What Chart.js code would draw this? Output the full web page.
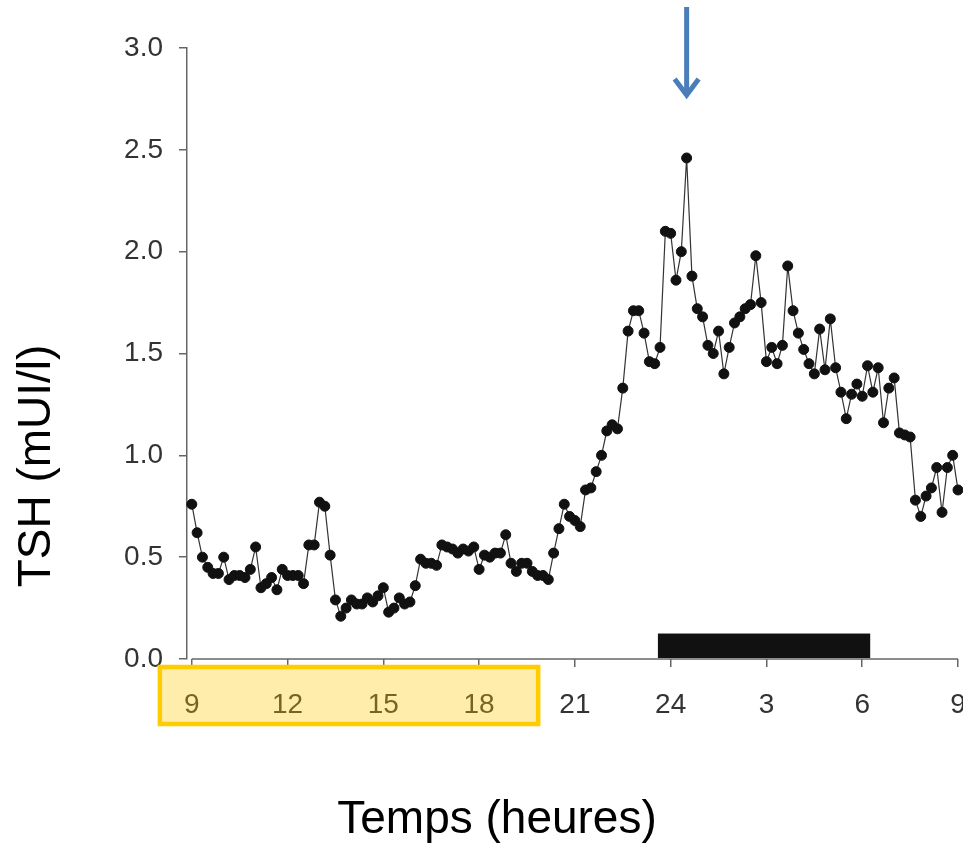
<!DOCTYPE html>
<html>
<head>
<meta charset="utf-8">
<script src="https://cdn.jsdelivr.net/npm/chart.js@4.4.1/dist/chart.umd.min.js"></script>
<style>
  html, body { margin: 0; padding: 0; background: #fff; }
  #wrap { width: 963px; height: 846px; }
</style>
</head>
<body>
<div id="wrap"><canvas id="tshChart" width="963" height="846"></canvas></div>
<script>
// TSH (mUI/l), one sample every 10 minutes starting at 9:00
const tsh = [
  0.76, 0.62, 0.50, 0.45, 0.42, 0.42, 0.50, 0.39, 0.41, 0.41, 0.40, 0.44,
  0.55, 0.35, 0.37, 0.40, 0.34, 0.44, 0.41, 0.41, 0.41, 0.37, 0.56, 0.56,
  0.77, 0.75, 0.51, 0.29, 0.21, 0.25, 0.29, 0.27, 0.27, 0.30, 0.28, 0.31,
  0.35, 0.23, 0.25, 0.30, 0.27, 0.28, 0.36, 0.49, 0.47, 0.47, 0.46, 0.56,
  0.55, 0.54, 0.52, 0.54, 0.53, 0.55, 0.44, 0.51, 0.50, 0.52, 0.52, 0.61,
  0.47, 0.43, 0.47, 0.47, 0.43, 0.41, 0.41, 0.39, 0.52, 0.64, 0.76, 0.70,
  0.68, 0.65, 0.83, 0.84, 0.92, 1.00, 1.12, 1.15, 1.13, 1.33, 1.61, 1.71,
  1.71, 1.60, 1.46, 1.45, 1.53, 2.10, 2.09, 1.86, 2.00, 2.46, 1.88, 1.72,
  1.68, 1.54, 1.50, 1.61, 1.40, 1.53, 1.65, 1.68, 1.72, 1.74, 1.98, 1.75,
  1.46, 1.53, 1.45, 1.54, 1.93, 1.71, 1.60, 1.52, 1.45, 1.40, 1.62, 1.42,
  1.67, 1.43, 1.31, 1.18, 1.30, 1.35, 1.29, 1.44, 1.31, 1.43, 1.16, 1.33,
  1.38, 1.11, 1.10, 1.09, 0.78, 0.70, 0.80, 0.84, 0.94, 0.72, 0.94, 1.00,
  0.83
];
const sampleStepHours = 10 / 60;

// x axis: hours elapsed since 9:00
const xTickValues = [0, 3, 6, 9, 12, 15, 18, 21, 24];
const xTickLabels = ['9', '12', '15', '18', '21', '24', '3', '6', '9'];
const yTickValues = [0, 0.5, 1, 1.5, 2, 2.5, 3];

const sleepPeriod = [14.6, 21.25];   // black bar, hours since 9:00
const sleepBarHeight = 0.125;        // in TSH units
const peakIndex = 93;                // sample marked by the arrow
const highlightRange = [-1.0, 10.85]; // yellow box around the daytime labels

const points = tsh.map((v, i) => ({ x: i * sampleStepHours, y: v }));

const FONT = "'Liberation Sans', Arial, Helvetica, sans-serif";
Chart.defaults.font.family = FONT;

const overlays = {
  id: 'overlays',
  beforeDatasetsDraw(chart) {
    const { ctx, chartArea, scales: { x } } = chart;
    ctx.save();
    ctx.strokeStyle = '#666';
    ctx.lineWidth = 1.5;
    ctx.beginPath();
    ctx.moveTo(x.getPixelForValue(0), chartArea.bottom);
    ctx.lineTo(x.getPixelForValue(24), chartArea.bottom);
    ctx.stroke();
    ctx.restore();
  },
  afterDraw(chart) {
    const { ctx, chartArea, scales: { x, y } } = chart;
    ctx.save();

    // sleep period bar
    const bx0 = x.getPixelForValue(sleepPeriod[0]);
    const bx1 = x.getPixelForValue(sleepPeriod[1]);
    const by0 = y.getPixelForValue(sleepBarHeight);
    const by1 = y.getPixelForValue(0);
    ctx.fillStyle = '#111';
    ctx.fillRect(bx0, by0, bx1 - bx0, by1 - by0 - 1);

    // yellow highlight box over the tick labels
    const hx0 = x.getPixelForValue(highlightRange[0]);
    const hx1 = x.getPixelForValue(highlightRange[1]);
    const hy0 = chartArea.bottom + 8;
    const hy1 = chartArea.bottom + 65;
    ctx.fillStyle = 'rgba(255, 204, 0, 0.33)';
    ctx.fillRect(hx0, hy0, hx1 - hx0, hy1 - hy0);
    ctx.strokeStyle = '#FFCC00';
    ctx.lineWidth = 4.5;
    ctx.strokeRect(hx0, hy0, hx1 - hx0, hy1 - hy0);

    // blue arrow pointing at the peak
    const ax = x.getPixelForValue(points[peakIndex].x);
    ctx.strokeStyle = '#4A7EBB';
    ctx.lineWidth = 5;
    ctx.beginPath();
    ctx.moveTo(ax, 7);
    ctx.lineTo(ax, 94);
    ctx.stroke();
    ctx.lineJoin = 'miter';
    ctx.beginPath();
    ctx.moveTo(ax - 12, 79);
    ctx.lineTo(ax, 95);
    ctx.lineTo(ax + 12, 79);
    ctx.stroke();

    // axis titles
    ctx.fillStyle = '#000';
    ctx.font = '46px ' + FONT;
    ctx.textAlign = 'center';
    ctx.textBaseline = 'middle';
    ctx.fillText('Temps (heures)', 497, 820);
    ctx.translate(37, 466);
    ctx.rotate(-Math.PI / 2);
    ctx.fillText('TSH (mUI/l)', 0, 0);

    ctx.restore();
  }
};

const ctx = document.getElementById('tshChart').getContext('2d');
const tshChart = new Chart(ctx, {
  type: 'line',
  data: {
    datasets: [{
      label: 'TSH',
      data: points,
      borderColor: '#333',
      borderWidth: 1.2,
      pointBackgroundColor: '#111',
      pointBorderColor: '#111',
      pointBorderWidth: 1,
      pointRadius: 5,
      tension: 0,
      clip: false
    }]
  },
  options: {
    responsive: false,
    animation: false,
    events: [],
    layout: {
      autoPadding: false,
      padding: { top: 48, right: 5, bottom: 0, left: 0 }
    },
    plugins: {
      legend: { display: false },
      tooltip: { enabled: false }
    },
    scales: {
      x: {
        type: 'linear',
        min: -0.15,
        max: 24,
        afterFit(scale) {
          scale.height = 187;
          scale.paddingLeft = 0;
          scale.paddingRight = 0;
        },
        afterBuildTicks(scale) {
          scale.ticks = xTickValues.map(v => ({ value: v }));
        },
        border: { display: false },
        grid: {
          drawOnChartArea: false,
          drawTicks: true,
          tickLength: 8,
          color: '#666',
          lineWidth: 1.5
        },
        ticks: {
          autoSkip: false,
          maxRotation: 0,
          padding: 21,
          color: '#333',
          font: { size: 28 },
          callback: (v, i) => xTickLabels[i]
        }
      },
      y: {
        min: 0,
        max: 3,
        afterFit(scale) { scale.width = 187; },
        afterBuildTicks(scale) {
          scale.ticks = yTickValues.map(v => ({ value: v }));
        },
        border: { display: true, color: '#666', width: 1.5 },
        grid: {
          drawOnChartArea: false,
          drawTicks: true,
          tickLength: 8,
          color: '#666',
          lineWidth: 1.5
        },
        ticks: {
          padding: 16,
          color: '#333',
          font: { size: 28 },
          callback: v => v.toFixed(1)
        }
      }
    }
  },
  plugins: [overlays]
});
</script>
</body>
</html>
